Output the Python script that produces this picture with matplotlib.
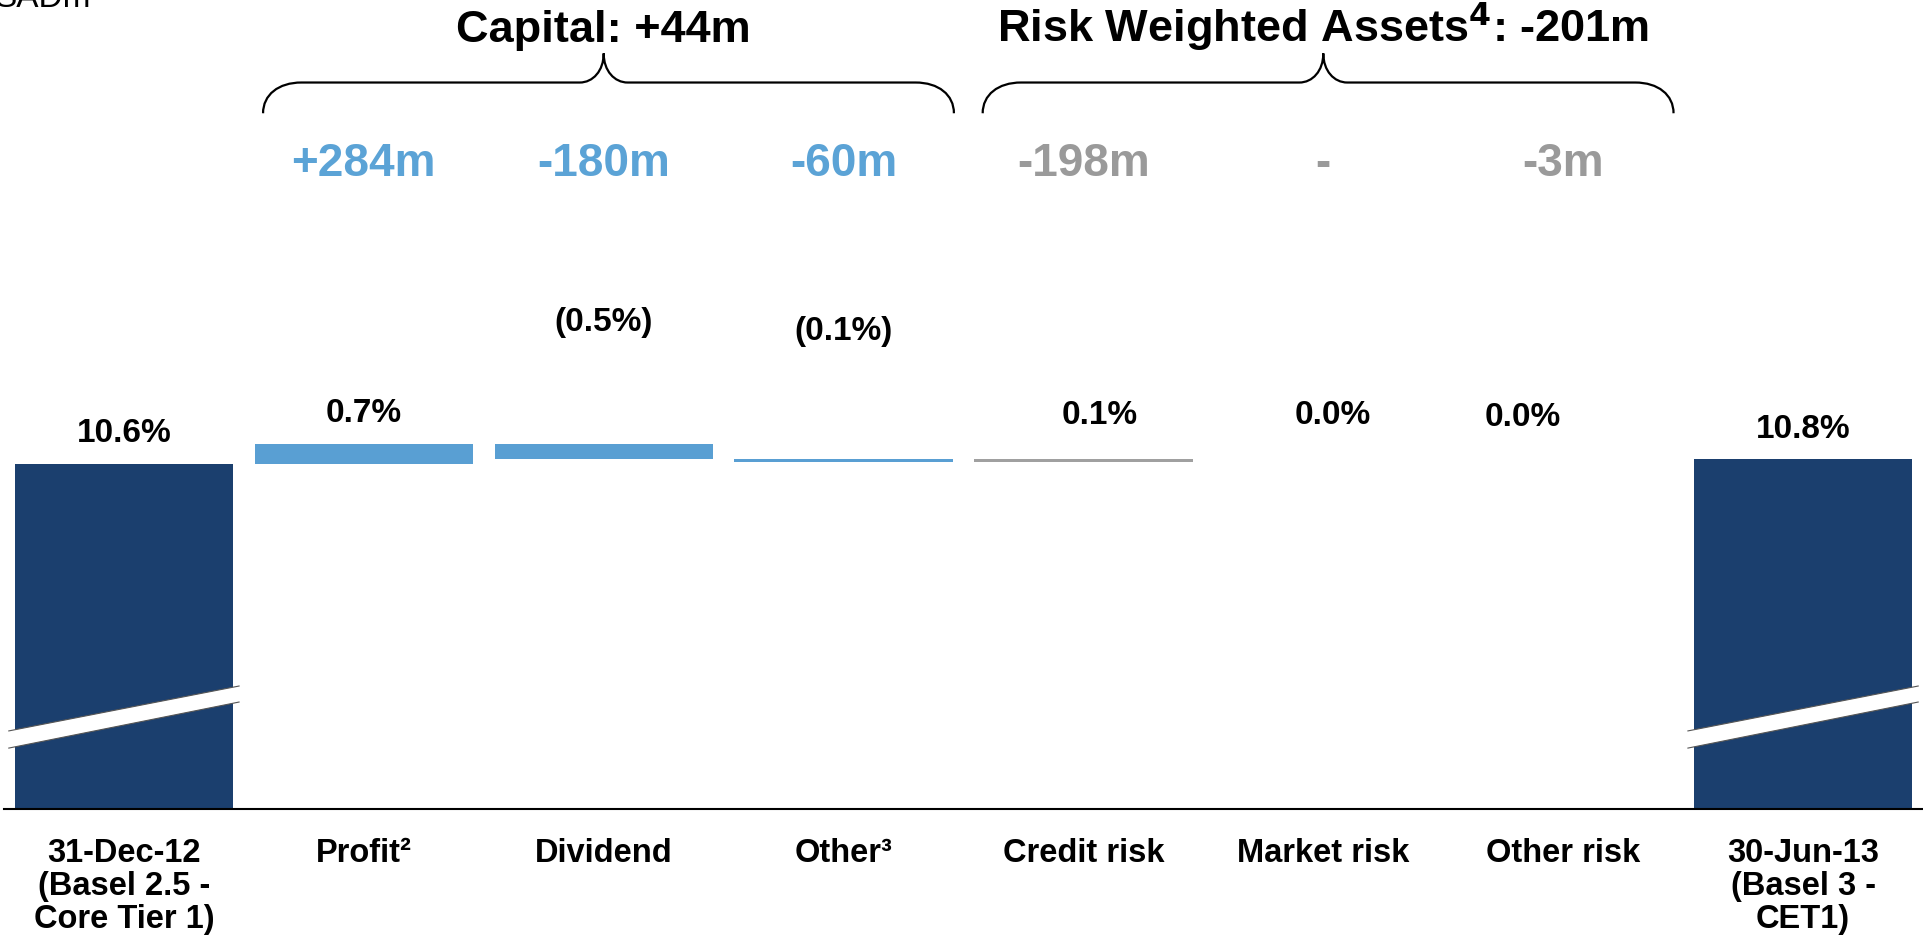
import matplotlib
matplotlib.use('Agg')
import matplotlib.pyplot as plt
import matplotlib.transforms as mtransforms
from matplotlib.path import Path
from matplotlib.patches import PathPatch, Polygon
import numpy as np

plt.rcParams['font.family'] = ['Liberation Sans', 'DejaVu Sans']

# Chart data
categories = ['31-Dec-12\n(Basel 2.5 -\nCore Tier 1)', 'Profit²', 'Dividend', 'Other³',
              'Credit risk', 'Market risk', 'Other risk', '30-Jun-13\n(Basel 3 -\nCET1)']
start_ratio = 10.6
end_ratio = 10.8
changes = [0.7, -0.5, -0.1, 0.1, 0.0, 0.0]
ratio_labels = ['10.6%', '0.7%', '(0.5%)', '(0.1%)', '0.1%', '0.0%', '0.0%', '10.8%']
amount_labels = ['+284m', '-180m', '-60m', '-198m', '-', '-3m']
group_titles = ['Capital: +44m', 'Risk Weighted Assets$^4$: -201m']
group_members = [[1, 2, 3], [4, 5, 6]]
unit_label = 'SADm'

# Styles
navy = '#1b3f6e'
blue = '#599fd3'
grey = '#a0a0a0'
step_colors = [blue, blue, blue, grey, grey, grey]
amount_colors = ['#5ba3d6'] * 3 + ['#9a9a9a'] * 3
label_dy = [31, 31, 122, 127, 43, 43, 41, 29]   # px above bar top
label_dx = [0, 0, 0, 0, 16, 9, -40, 0]
bar_w = 0.91

plt.rcParams['mathtext.default'] = 'bf'

fig = plt.figure(figsize=(19.23, 9.44), dpi=100)
ax = fig.add_axes([4 / 1923, 135 / 944, 1919 / 1923, 809 / 944])
ybot = -1.45
ax.set_xlim(-0.5, 7.5)
ax.set_ylim(ybot, ybot + 809 / 28.6)
for s in ['left', 'right', 'top']:
    ax.spines[s].set_visible(False)
ax.spines['bottom'].set_linewidth(1.5)
ax.set_yticks([])
ax.set_xticks(range(len(categories)))
ax.set_xticklabels(categories, fontsize=23.5, fontweight='bold')
ax.tick_params(axis='x', length=0, pad=21)
for lbl in ax.get_xticklabels():
    lbl.set_linespacing(1.07)

# start / end bars (broken axis)
ax.bar([0, 7], [start_ratio - ybot, end_ratio - ybot], bottom=ybot, width=bar_w, color=navy)

# waterfall steps
levels = start_ratio + np.concatenate([[0], np.cumsum(changes)])
tops = [start_ratio]
for i, ch in enumerate(changes):
    lo = min(levels[i], levels[i + 1])
    hi = max(levels[i], levels[i + 1])
    ax.bar(i + 1, hi - lo, bottom=lo, width=bar_w, color=step_colors[i])
    tops.append(hi)
tops.append(end_ratio)

# axis break marks
for xc in [0, 7]:
    band = [(xc - 0.48, 0.68), (xc + 0.48, 2.29), (xc + 0.48, 2.85), (xc - 0.48, 1.28)]
    ax.add_patch(Polygon(band, closed=True, facecolor='white', edgecolor='none', zorder=3))
    ax.plot([xc - 0.48, xc + 0.48], [0.68, 2.29], color='#555555', lw=0.8, zorder=4)
    ax.plot([xc - 0.48, xc + 0.48], [1.28, 2.85], color='#555555', lw=0.8, zorder=4)

# ratio labels
for i, lbl in enumerate(ratio_labels):
    ax.annotate(lbl, (i, tops[i]), xytext=(label_dx[i] * 0.72, label_dy[i] * 0.72),
                textcoords='offset points', ha='center', va='center',
                fontsize=24, fontweight='bold')

trans = mtransforms.blended_transform_factory(ax.transData, ax.transAxes)

# amount labels
for i, lbl in enumerate(amount_labels):
    ax.text(i + 1, 0.797, lbl, transform=trans, ha='center', va='center',
            fontsize=33, fontweight='bold', color=amount_colors[i])


def brace(x0, x1, xm, y_end, y_h, y_tip):
    cx = 0.16
    mx = 0.10
    verts = [(x0, y_end),
             (x0, y_end + 0.6 * (y_h - y_end)), (x0 + 0.4 * cx, y_h), (x0 + cx, y_h),
             (xm - mx, y_h),
             (xm - 0.45 * mx, y_h), (xm, y_h + 0.4 * (y_tip - y_h)), (xm, y_tip),
             (xm, y_h + 0.4 * (y_tip - y_h)), (xm + 0.45 * mx, y_h), (xm + mx, y_h),
             (x1 - cx, y_h),
             (x1 - 0.4 * cx, y_h), (x1, y_end + 0.6 * (y_h - y_end)), (x1, y_end)]
    codes = [Path.MOVETO,
             Path.CURVE4, Path.CURVE4, Path.CURVE4,
             Path.LINETO,
             Path.CURVE4, Path.CURVE4, Path.CURVE4,
             Path.CURVE4, Path.CURVE4, Path.CURVE4,
             Path.LINETO,
             Path.CURVE4, Path.CURVE4, Path.CURVE4]
    ax.add_patch(PathPatch(Path(verts, codes), facecolor='none', edgecolor='black',
                           lw=1.6, transform=trans, clip_on=False))


# group braces and titles
for title, members in zip(group_titles, group_members):
    xm = members[len(members) // 2]
    brace(members[0] - 0.42, members[-1] + 0.46, xm, 0.860, 0.898, 0.934)
    ax.text(xm, 0.948, title, transform=trans, ha='center', va='baseline',
            fontsize=32.5, fontweight='bold')

fig.text(-0.003, 1 - 7 / 944, unit_label, fontsize=24, ha='left', va='baseline')

fig.savefig('out.png', dpi=100)
